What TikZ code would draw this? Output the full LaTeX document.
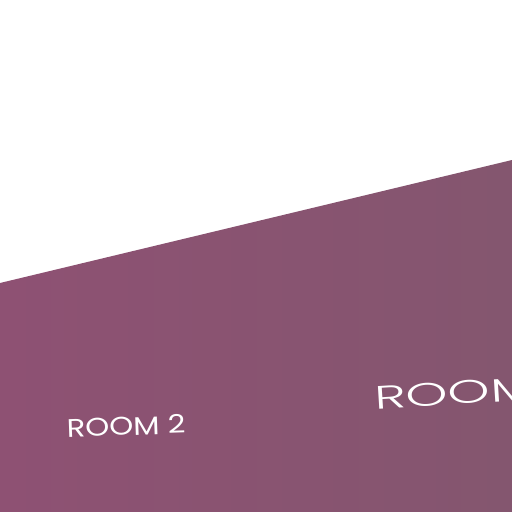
\documentclass[tikz,border=0pt]{standalone}
\usepackage{fontspec}
\setmainfont{Poppins}
\newfontfamily\thinfont{Poppins}[UprightFont=* Light]
\usepackage{xcolor}
\usepackage{tikz}
\usetikzlibrary{positioning}
\definecolor{plumleft}{HTML}{8E5173}
\definecolor{plumright}{HTML}{84566F}

\begin{document}
\begin{tikzpicture}[
        x=0.02cm, y=-0.02cm,
        label/.style={text=white, inner sep=0pt, anchor=center},
        floor/.style={left color=plumleft, right color=plumright, draw=none}
    ]
        % Canvas
        \useasboundingbox (0,0) rectangle (512,512);
        \clip (0,0) rectangle (512,512);
        
        % Floor area
        \path[floor] (0,283) -- (512,160) -- (512,512) -- (0,512) -- cycle;
        
        % Room labels
        \node[label, font=\fontsize{14.5}{16}\selectfont, rotate=2, xscale=1.2] (room2) at (126,426) {ROOM 2};
        \node[label, font=\thinfont\fontsize{18.5}{20}\selectfont, anchor=west, rotate=3.5, xscale=1.65] (room1) at (374,398) {ROOM 1};
    \end{tikzpicture}
\end{document}
